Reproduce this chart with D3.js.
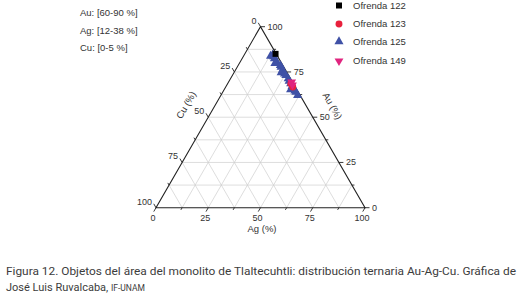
<!DOCTYPE html>
<html>
<head>
<meta charset="utf-8" />
<title>Ternaria Au-Ag-Cu</title>
<script type="text/javascript" src="https://d3js.org/d3.v7.min.js"></script>
<style type="text/css">
    body { margin: 0; background: #fff; }
    svg text { font-family: "Liberation Sans", Arial, sans-serif; fill: #333; }
    .caption text { font-family: Roboto, "Open Sans", sans-serif; fill: #3c3c3c; }
</style>
</head>
<body>
<svg width="525" height="295"></svg>
<script>
    // composition ranges shown top-left
    var ranges = ["Au: [60-90 %]", "Ag: [12-38 %]", "Cu: [0-5 %]"];

    // series (Au, Ag; Cu = 100 - Au - Ag)
    var series_names = ["Ofrenda 122", "Ofrenda 123", "Ofrenda 125", "Ofrenda 149"];
    var au_122 = [85.0];
    var ag_122 = [14.7];
    var au_123 = [68.5, 66.7];
    var ag_123 = [30.3, 32.1];
    var au_125 = [84.5, 83.8, 83.5, 82.3, 80.5, 79.8, 78.6, 77.7, 76.0, 75.0, 74.6, 74.0, 73.1, 71.3, 70.0, 68.5, 67.0, 65.7, 65.2, 64.5, 63.9, 62.1];
    var ag_125 = [13.6, 12.9, 14.5, 15.5, 17.6, 17.0, 20.2, 21.0, 22.5, 23.1, 22.6, 24.5, 25.6, 27.6, 28.7, 30.2, 31.6, 32.5, 31.8, 34.2, 35.0, 36.7];
    var au_149 = [69.4, 67.8];
    var ag_149 = [30.2, 31.4];

    var tick_values = [0, 12.5, 25, 37.5, 50, 62.5, 75, 87.5, 100];

    var svg = d3.select("svg");

    // base of the triangle and its height
    var xS = d3.scaleLinear().domain([0, 100]).range([156, 365]);
    var yS = d3.scaleLinear().domain([0, 100]).range([207.7, 207.7 - 209 * Math.sqrt(3) / 2]);

    function pt(au, ag) { return [xS(ag + au / 2), yS(au)]; }

    var line = d3.line();

    // grid
    var grid = svg.append("g").attr("stroke", "#cfcfcf").attr("stroke-width", 0.7).attr("fill", "none");
    tick_values.slice(1, -1).forEach(function(v) {
        grid.append("path").attr("d", line([pt(v, 0), pt(v, 100 - v)]));          // Au const
        grid.append("path").attr("d", line([pt(0, v), pt(100 - v, v)]));          // Ag const
        grid.append("path").attr("d", line([pt(100 - v, 0), pt(0, 100 - v)]));    // Cu const
    });

    // frame
    svg.append("path")
        .attr("d", line([pt(0, 0), pt(0, 100), pt(100, 0)]) + "Z")
        .attr("fill", "none").attr("stroke", "#222").attr("stroke-width", 1.1);

    // ticks and labels
    var c = Math.cos(Math.PI / 3), s = Math.sin(Math.PI / 3);
    var axes = [
        { p: function(v) { return pt(0, v); }, d: [-c, s] },          // Ag bottom
        { p: function(v) { return pt(v, 100 - v); }, d: [1, 0] },     // Au right
        { p: function(v) { return pt(100 - v, 0); }, d: [-c, -s] }    // Cu left
    ];
    var ticks = svg.append("g").attr("stroke", "#222").attr("stroke-width", 0.9);
    var labels = svg.append("g").attr("font-size", "9px");
    axes.forEach(function(a, k) {
        tick_values.forEach(function(v) {
            var p = a.p(v), len = (v % 25 === 0) ? 4.5 : 2.5;
            ticks.append("path").attr("d", line([p, [p[0] + a.d[0] * len, p[1] + a.d[1] * len]]));
            if (v % 25 !== 0) return;
            var t = labels.append("text").text(d3.format("d")(v));
            if (k === 0) t.attr("x", p[0] - 3).attr("y", p[1] + 13).attr("text-anchor", "middle");
            if (k === 1) t.attr("x", p[0] + 7).attr("y", p[1] + 3).attr("text-anchor", "start");
            if (k === 2) t.attr("x", p[0] - 4).attr("y", p[1] - 3).attr("text-anchor", "end");
        });
    });

    // axis titles
    var titles = svg.append("g").attr("font-size", "9.5px").attr("text-anchor", "middle");
    titles.append("text").attr("x", 262).attr("y", 232).text("Ag (%)");
    titles.append("text").attr("transform", "translate(332.5,106) rotate(60)").attr("dy", "0.35em").text("Au (%)");
    titles.append("text").attr("transform", "translate(186,105) rotate(-60)").attr("dy", "0.35em").text("Cu (%)");

    // markers
    var styles = [
        { au: au_122, ag: ag_122, sym: d3.symbolSquare, size: 36, fill: "#000000", rot: 0 },
        { au: au_123, ag: ag_123, sym: d3.symbolCircle, size: 38, fill: "#e8203c", rot: 0 },
        { au: au_125, ag: ag_125, sym: d3.symbolTriangle, size: 36, fill: "#3f51a6", rot: 0 },
        { au: au_149, ag: ag_149, sym: d3.symbolTriangle, size: 34, fill: "#e0247f", rot: 180 }
    ];
    var order = [2, 0, 1, 3];
    order.forEach(function(i) {
        var st = styles[i];
        svg.append("g").selectAll("path")
            .data(st.au.map(function(au, j) { return pt(au, st.ag[j]); }))
            .enter()
            .append("path")
            .attr("d", d3.symbol().type(st.sym).size(st.size))
            .attr("fill", st.fill)
            .attr("transform", function(d) { return "translate(" + d[0] + "," + d[1] + ") rotate(" + st.rot + ")"; });
    });

    // legend
    var legY = [5.5, 24, 41.5, 61];
    var leg = svg.append("g");
    series_names.forEach(function(name, i) {
        var st = styles[i];
        leg.append("path")
            .attr("d", d3.symbol().type(st.sym).size(st.size))
            .attr("fill", st.fill)
            .attr("transform", "translate(339," + legY[i] + ") rotate(" + st.rot + ")");
        leg.append("text").attr("x", 353).attr("y", legY[i]).attr("dy", "0.35em")
            .attr("font-size", "9.5px").attr("fill", "#222").text(name);
    });

    // ranges text
    svg.append("g").selectAll("text")
        .data(ranges)
        .enter()
        .append("text")
        .attr("x", 80)
        .attr("y", function(d, i) { return [13, 31, 48][i]; })
        .attr("dy", "0.35em")
        .attr("font-size", "9.5px")
        .text(function(d) { return d; });

    // caption
    var cap = svg.append("g").attr("class", "caption").attr("font-size", "11px");
    cap.append("text").attr("x", 6).attr("y", 275)
        .attr("textLength", 510).attr("lengthAdjust", "spacingAndGlyphs")
        .text("Figura 12. Objetos del área del monolito de Tlaltecuhtli: distribución ternaria Au-Ag-Cu. Gráfica de");
    var l2 = cap.append("text").attr("x", 6).attr("y", 291);
    l2.append("tspan").text("José Luis Ruvalcaba, ");
    l2.append("tspan").attr("font-size", "8.5px").text("IF-UNAM");
</script>
</body>
</html>
